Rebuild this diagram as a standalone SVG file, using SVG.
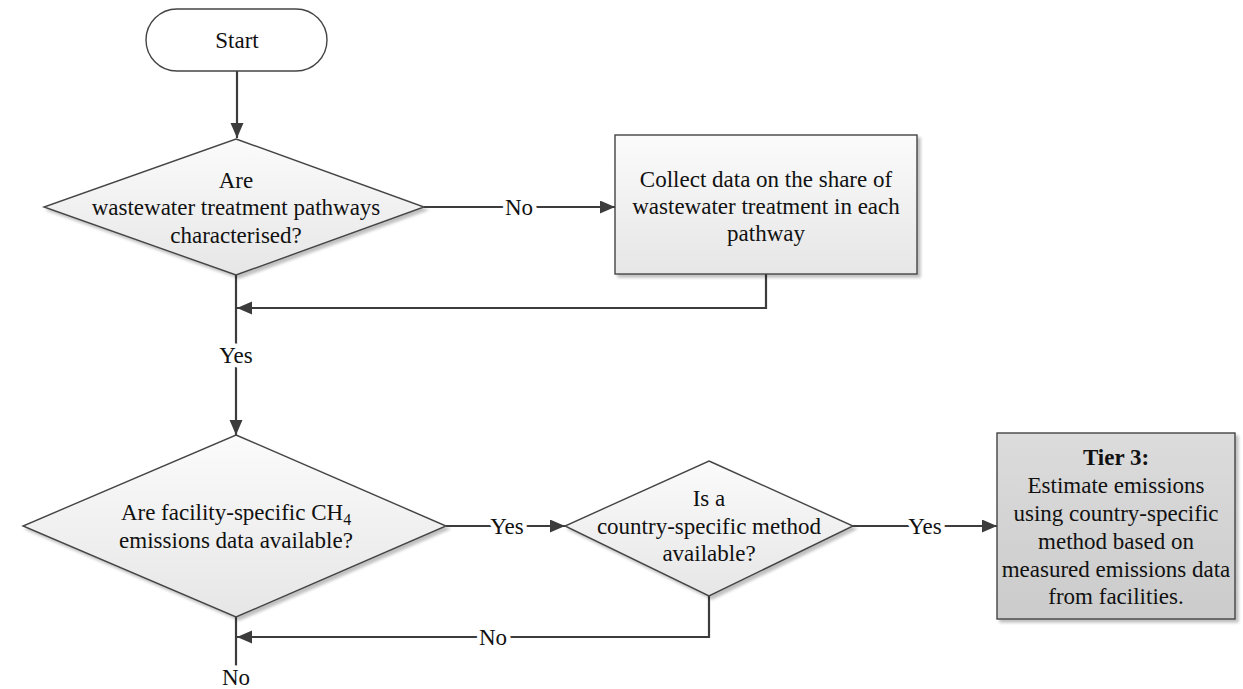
<svg xmlns="http://www.w3.org/2000/svg" width="1243" height="689" viewBox="0 0 1243 689">
  <style>
    .shape { stroke: #444; stroke-width: 1.4; }
    .txt { font-family: "Liberation Serif", "Times New Roman", serif; font-size: 23px; fill: #111; text-anchor: middle; }
    .bold { font-weight: bold; }
    .conn { fill: none; stroke: #3c3c3c; stroke-width: 2.2; }
    .lbl { font-family: "Liberation Serif", "Times New Roman", serif; font-size: 23px; fill: #111; text-anchor: middle; stroke: #fff; stroke-width: 9; paint-order: stroke; stroke-linejoin: round; }
  </style>
  <defs>
    <linearGradient id="gLight" x1="0" y1="0" x2="0" y2="1">
      <stop offset="0" stop-color="#fbfbfb"/>
      <stop offset="1" stop-color="#e6e6e6"/>
    </linearGradient>
    <linearGradient id="gDark" x1="0" y1="0" x2="0" y2="1">
      <stop offset="0" stop-color="#dcdcdc"/>
      <stop offset="1" stop-color="#cbcbcb"/>
    </linearGradient>
    <filter id="shadow" x="-10%" y="-10%" width="130%" height="130%">
      <feGaussianBlur in="SourceAlpha" stdDeviation="1.6"/>
      <feOffset dx="3" dy="3" result="b"/>
      <feComponentTransfer><feFuncA type="linear" slope="0.25"/></feComponentTransfer>
      <feMerge><feMergeNode/><feMergeNode in="SourceGraphic"/></feMerge>
    </filter>
    <marker id="arrow" markerUnits="userSpaceOnUse" markerWidth="16" markerHeight="14" refX="15" refY="6.5" orient="auto">
      <path d="M0,0 L15,6.5 L0,13 z" fill="#3c3c3c"/>
    </marker>
  </defs>

  <rect width="1243" height="689" fill="#fff"/>

  <!-- connectors -->
  <g id="connectors">
    <path class="conn" d="M237,71 L237,138" marker-end="url(#arrow)"/>
    <path class="conn" d="M424,207 L615,207" marker-end="url(#arrow)"/>
    <path class="conn" d="M766,274 L766,308 L237,308" marker-end="url(#arrow)"/>
    <path class="conn" d="M236,275 L236,435" marker-end="url(#arrow)"/>
    <path class="conn" d="M446,526 L565,526" marker-end="url(#arrow)"/>
    <path class="conn" d="M853,526 L997,526" marker-end="url(#arrow)"/>
    <path class="conn" d="M709,596 L709,637 L237,637" marker-end="url(#arrow)"/>
    <path class="conn" d="M236,617 L236,667"/>
    <text class="lbl" x="519" y="215">No</text>
    <text class="lbl" x="236" y="363">Yes</text>
    <text class="lbl" x="507" y="534">Yes</text>
    <text class="lbl" x="925" y="534">Yes</text>
    <text class="lbl" x="493" y="645">No</text>
    <text class="lbl" x="236" y="685">No</text>
  </g>

  <!-- start terminator -->
  <g id="start">
    <rect class="shape" x="146" y="9" width="181" height="62" rx="31" ry="31" fill="#fff"/>
    <text class="txt" x="237" y="48">Start</text>
  </g>

  <!-- decision: pathways characterised -->
  <g id="decision-pathways">
    <polygon class="shape" points="236,139 424,207 236,275 44,207" fill="url(#gLight)" filter="url(#shadow)"/>
    <text class="txt" x="236" y="188">Are</text>
    <text class="txt" x="236" y="215">wastewater treatment pathways</text>
    <text class="txt" x="236" y="243">characterised?</text>
  </g>

  <!-- process: collect data -->
  <g id="collect-data">
    <rect class="shape" x="615" y="135" width="302" height="139" fill="url(#gLight)" filter="url(#shadow)"/>
    <text class="txt" x="766" y="187">Collect data on the share of</text>
    <text class="txt" x="766" y="214">wastewater treatment in each</text>
    <text class="txt" x="766" y="241">pathway</text>
  </g>

  <!-- decision: facility-specific data -->
  <g id="decision-facility">
    <polygon class="shape" points="236,435 446,526 236,617 23,526" fill="url(#gLight)" filter="url(#shadow)"/>
    <text class="txt" x="236" y="520">Are facility-specific CH<tspan font-size="16" dy="5">4</tspan></text>
    <text class="txt" x="236" y="548">emissions data available?</text>
  </g>

  <!-- decision: country-specific method -->
  <g id="decision-method">
    <polygon class="shape" points="709,461 853,526 709,596 565,526" fill="url(#gLight)" filter="url(#shadow)"/>
    <text class="txt" x="709" y="506">Is a</text>
    <text class="txt" x="709" y="534">country-specific method</text>
    <text class="txt" x="709" y="561">available?</text>
  </g>

  <!-- process: tier 3 -->
  <g id="tier3">
    <rect class="shape" x="997" y="433" width="238" height="186" fill="url(#gDark)" filter="url(#shadow)"/>
    <text class="txt bold" x="1116" y="465">Tier 3:</text>
    <text class="txt" x="1116" y="493">Estimate emissions</text>
    <text class="txt" x="1116" y="521">using country-specific</text>
    <text class="txt" x="1116" y="549">method based on</text>
    <text class="txt" x="1116" y="577">measured emissions data</text>
    <text class="txt" x="1116" y="604">from facilities.</text>
  </g>
</svg>
